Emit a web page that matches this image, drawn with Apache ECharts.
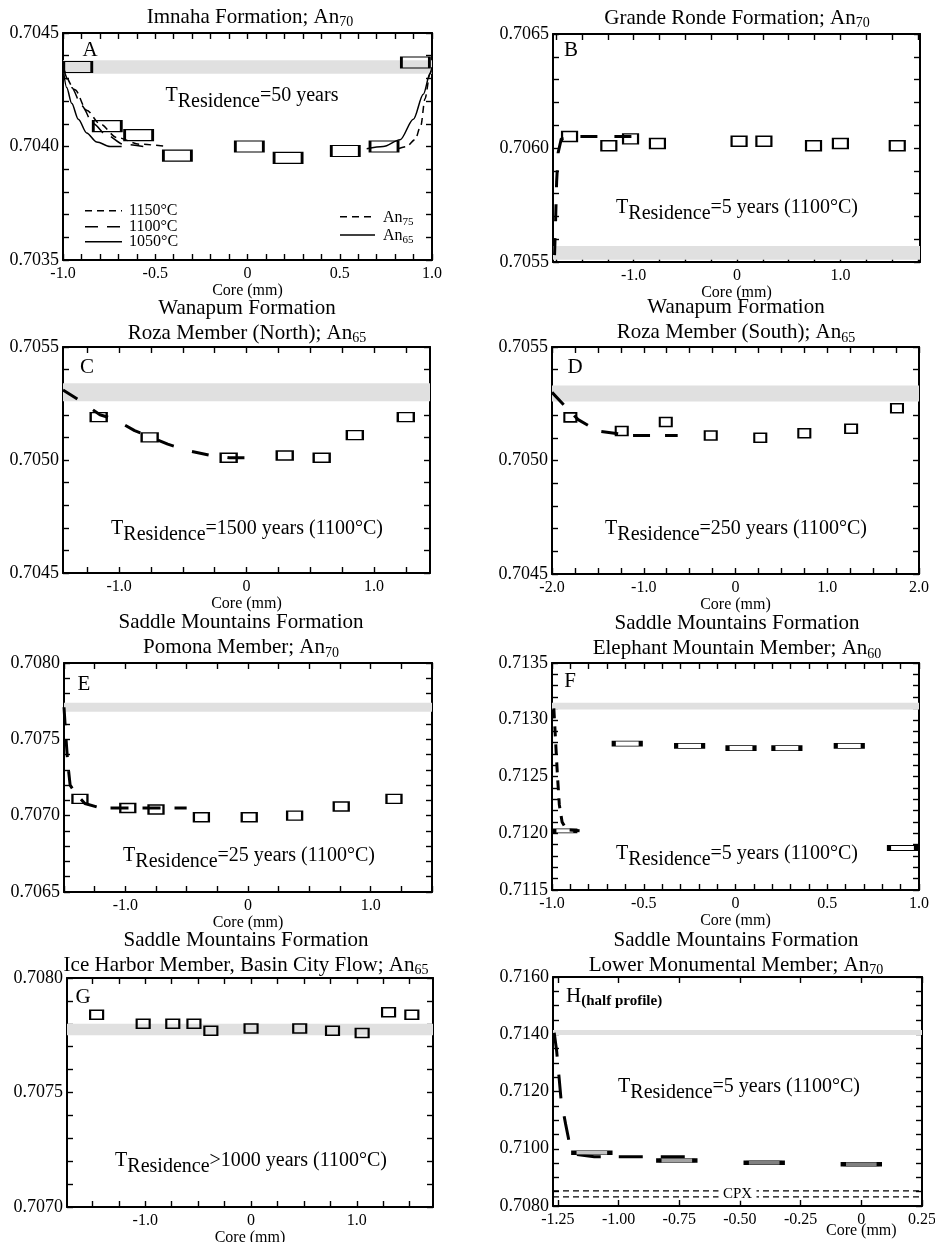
<!DOCTYPE html>
<html><head><meta charset="utf-8">
<script src="https://cdn.jsdelivr.net/npm/echarts@6/dist/echarts.min.js"></script>
<style>html,body{margin:0;padding:0;background:#fff}#c{width:935px;height:1242px}</style>
</head><body><div id="c"></div>
<script>
const FONT = '"Liberation Serif", "Times New Roman", Times, serif';

// ---------------- Panel A : Imnaha ----------------
const A_xRange = [-1.0, 1.0], A_yRange = [0.7035, 0.7045];
const A_xLabels = ['-1.0', '-0.5', '0', '0.5', '1.0'];
const A_yLabels = ['0.7035', '0.7040', '0.7045'];
const A_boxX = [-0.92, -0.76, -0.59, -0.38, 0.01, 0.22, 0.53, 0.74, 0.91];
const A_boxY = [0.70435, 0.70409, 0.70405, 0.70396, 0.70400, 0.70395, 0.70398, 0.70400, 0.70437];
const A_band = [0.70432, 0.70438];
const A_t1150X = [-1.0, -0.935, -0.872, -0.80, -0.709, -0.583, -0.438];
const A_t1150Y = [0.70435, 0.70425, 0.70416, 0.70410, 0.70404, 0.70401, 0.70400];
const A_t1100X = [-1.0, -0.953, -0.899, -0.836, -0.763, -0.673, -0.565];
const A_t1100Y = [0.70435, 0.70426, 0.70418, 0.70410, 0.70405, 0.70401, 0.70400];
const A_t1050X = [-1.0, -0.98, -0.953, -0.917, -0.872, -0.817, -0.745, -0.682];
const A_t1050Y = [0.70435, 0.70426, 0.70419, 0.70412, 0.70406, 0.70402, 0.70400, 0.70400];
const A_an65X = [0.646, 0.736, 0.827, 0.899, 0.953, 0.989, 1.0];
const A_an65Y = [0.70399, 0.70400, 0.70403, 0.70412, 0.70423, 0.70432, 0.70435];
const A_an75X = [0.817, 0.863, 0.908, 0.939, 0.962, 0.989, 1.0];
const A_an75Y = [0.70399, 0.70400, 0.70403, 0.70409, 0.70421, 0.70432, 0.70435];

// ---------------- Panel B : Grande Ronde ----------------
const B_xRange = [-1.78, 1.77], B_yRange = [0.7055, 0.7065];
const B_xLabels = ['-1.0', '0', '1.0'];
const B_yLabels = ['0.7055', '0.7060', '0.7065'];
const B_boxX = [-1.62, -1.24, -1.03, -0.77, 0.02, 0.26, 0.74, 1.00, 1.55];
const B_boxY = [0.70605, 0.70601, 0.70604, 0.70602, 0.70603, 0.70603, 0.70601, 0.70602, 0.70601];
const B_band = [0.70551, 0.70557];
const B_curveX = [-1.765, -1.755, -1.745, -1.73, -1.70, -1.55, -1.0];
const B_curveY = [0.70553, 0.70568, 0.70585, 0.70598, 0.70604, 0.70605, 0.70605];

// ---------------- Panel C : Roza North ----------------
const C_xRange = [-1.44, 1.44], C_yRange = [0.7045, 0.7055];
const C_xLabels = ['-1.0', '0', '1.0'];
const C_yLabels = ['0.7045', '0.7050', '0.7055'];
const C_boxX = [-1.16, -0.76, -0.14, 0.30, 0.59, 0.85, 1.25];
const C_boxY = [0.70519, 0.70510, 0.70501, 0.70502, 0.70501, 0.70511, 0.70519];
const C_band = [0.70526, 0.70534];
const C_curveX = [-1.44, -1.30, -1.15, -1.035, -0.878, -0.787, -0.618, -0.448, -0.279, -0.135, 0.08];
const C_curveY = [0.70531, 0.70526, 0.70520, 0.70518, 0.70513, 0.70511, 0.70507, 0.70504, 0.70502, 0.70501, 0.70501];

// ---------------- Panel D : Roza South ----------------
const D_xRange = [-2.0, 2.0], D_yRange = [0.7045, 0.7055];
const D_xLabels = ['-2.0', '-1.0', '0', '1.0', '2.0'];
const D_yLabels = ['0.7045', '0.7050', '0.7055'];
const D_boxX = [-1.80, -1.24, -0.76, -0.27, 0.27, 0.75, 1.26, 1.76];
const D_boxY = [0.70519, 0.70513, 0.70517, 0.70511, 0.70510, 0.70512, 0.70514, 0.70523];
const D_band = [0.70526, 0.70533];
const D_curveX = [-2.0, -1.86, -1.715, -1.50, -1.15, -1.04, -0.86, -0.63];
const D_curveY = [0.70530, 0.70524, 0.70518, 0.70513, 0.70511, 0.70511, 0.70511, 0.70511];

// ---------------- Panel E : Pomona ----------------
const E_xRange = [-1.5, 1.5], E_yRange = [0.7065, 0.7080];
const E_xLabels = ['-1.0', '0', '1.0'];
const E_yLabels = ['0.7065', '0.7070', '0.7075', '0.7080'];
const E_boxX = [-1.37, -0.98, -0.75, -0.38, 0.01, 0.38, 0.76, 1.19];
const E_boxY = [0.70711, 0.70705, 0.70704, 0.70699, 0.70699, 0.70700, 0.70706, 0.70711];
const E_band = [0.70768, 0.70774];
const E_curveX = [-1.50, -1.485, -1.47, -1.45, -1.41, -1.33, -1.20, -0.50];
const E_curveY = [0.70771, 0.70752, 0.70735, 0.70720, 0.70715, 0.70708, 0.70705, 0.70705];

// ---------------- Panel F : Elephant Mountain ----------------
const F_xRange = [-1.0, 1.0], F_yRange = [0.7115, 0.7135];
const F_xLabels = ['-1.0', '-0.5', '0', '0.5', '1.0'];
const F_yLabels = ['0.7115', '0.7120', '0.7125', '0.7130', '0.7135'];
const F_boxX = [-0.93, -0.59, -0.25, 0.03, 0.28, 0.62, 0.91];
const F_boxY = [0.71202, 0.71279, 0.71277, 0.71275, 0.71275, 0.71277, 0.71187];
const F_band = [0.71309, 0.71315];
const F_curveX = [-0.99, -0.98, -0.97, -0.96, -0.945, -0.92, -0.82];
const F_curveY = [0.71310, 0.71280, 0.71250, 0.71225, 0.71210, 0.71203, 0.71202];

// ---------------- Panel G : Ice Harbor ----------------
const G_xRange = [-1.74, 1.72], G_yRange = [0.7070, 0.7080];
const G_xLabels = ['-1.0', '0', '1.0'];
const G_yLabels = ['0.7070', '0.7075', '0.7080'];
const G_boxX = [-1.46, -1.02, -0.74, -0.54, -0.38, 0.00, 0.46, 0.77, 1.05, 1.30, 1.52];
const G_boxY = [0.70784, 0.70780, 0.70780, 0.70780, 0.70777, 0.70778, 0.70778, 0.70777, 0.70776, 0.70785, 0.70784];
const G_band = [0.70775, 0.70780];

// ---------------- Panel H : Lower Monumental ----------------
const H_xRange = [-1.27, 0.25], H_yRange = [0.7080, 0.7160];
const H_xLabels = ['-1.25', '-1.00', '-0.75', '-0.50', '-0.25', '0', '0.25'];
const H_yLabels = ['0.7080', '0.7100', '0.7120', '0.7140', '0.7160'];
const H_boxX = [-1.11, -0.76, -0.40, 0.00];
const H_boxY = [0.70986, 0.70959, 0.70951, 0.70946];
const H_band = [0.71397, 0.71415];
const H_curveX = [-1.265, -1.255, -1.245, -1.237, -1.218, -1.20, -1.18, -1.10, -0.70];
const H_curveY = [0.71405, 0.71342, 0.71249, 0.71173, 0.71086, 0.71010, 0.70981, 0.70972, 0.70972];
const H_cpx = [0.70853, 0.70832];

// ---------------- styles (not data) ----------------
const H_boxFill = ['#c4c4c4', '#a2a2a2', '#808080', '#808080'];

function pairs(xs, ys) { return xs.map((x, i) => [x, ys[i]]); }
function stepValues(min, max, step) {
  const out = [];
  const s = Math.ceil(min / step - 1e-6), e = Math.floor(max / step + 1e-6);
  for (let k = s; k <= e; k++) out.push(+(k * step).toFixed(6));
  return out;
}

const panels = [
  { grid: { left: 63, top: 33, width: 369, height: 227 }, xr: A_xRange, yr: A_yRange, xs: 0.1, ys: 0.0001, xl: A_xLabels, yl: A_yLabels, bx: A_boxX, by: A_boxY, band: A_band, size: [28, 11] },
  { grid: { left: 553, top: 34, width: 367, height: 228 }, xr: B_xRange, yr: B_yRange, xs: 0.25, ys: 0.0001, xl: B_xLabels, yl: B_yLabels, bx: B_boxX, by: B_boxY, band: B_band, size: [15, 10] },
  { grid: { left: 63, top: 347, width: 367, height: 226 }, xr: C_xRange, yr: C_yRange, xs: 0.25, ys: 0.0001, xl: C_xLabels, yl: C_yLabels, bx: C_boxX, by: C_boxY, band: C_band, size: [16, 9] },
  { grid: { left: 552, top: 347, width: 367, height: 227 }, xr: D_xRange, yr: D_yRange, xs: 0.25, ys: 0.0001, xl: D_xLabels, yl: D_yLabels, bx: D_boxX, by: D_boxY, band: D_band, size: [12, 9] },
  { grid: { left: 64, top: 663, width: 368, height: 229 }, xr: E_xRange, yr: E_yRange, xs: 0.25, ys: 0.0001, xl: E_xLabels, yl: E_yLabels, bx: E_boxX, by: E_boxY, band: E_band, size: [15, 9] },
  { grid: { left: 552, top: 663, width: 367, height: 227 }, xr: F_xRange, yr: F_yRange, xs: 0.1, ys: 0.0001, xl: F_xLabels, yl: F_yLabels, bx: F_boxX, by: F_boxY, band: F_band, size: [27, 5] },
  { grid: { left: 67, top: 978, width: 366, height: 229 }, xr: G_xRange, yr: G_yRange, xs: 0.25, ys: 0.0001, xl: G_xLabels, yl: G_yLabels, bx: G_boxX, by: G_boxY, band: G_band, size: [13, 9] },
  { grid: { left: 553, top: 977, width: 369, height: 229 }, xr: H_xRange, yr: H_yRange, xs: 0.25, ys: 0.0005, xl: H_xLabels, yl: H_yLabels, bx: H_boxX, by: H_boxY, band: H_band, size: [36, 4], noName: true }
];

const AX = { color: '#000', width: 2 };
const TK = { color: '#000', width: 1.4 };
function labelFmt(list) {
  return function (v) {
    for (const s of list) if (Math.abs(parseFloat(s) - v) < 1e-9) return s;
    return '';
  };
}

const grids = [], xAxes = [], yAxes = [], series = [];
panels.forEach((p, i) => {
  grids.push(Object.assign({ outerBoundsMode: 'none', containLabel: false }, p.grid));
  const xt = stepValues(p.xr[0], p.xr[1], p.xs);
  const yt = stepValues(p.yr[0], p.yr[1], p.ys);
  const xlv = p.xl.map(parseFloat), ylv = p.yl.map(parseFloat);
  const baseX = {
    gridIndex: i, type: 'value', min: p.xr[0], max: p.xr[1], splitLine: { show: false },
    axisLine: { show: true, onZero: false, lineStyle: AX },
    axisTick: { show: true, inside: true, length: 6, customValues: xt, lineStyle: TK }
  };
  xAxes.push(Object.assign({}, baseX, {
    position: 'bottom',
    axisLabel: { customValues: xlv, formatter: labelFmt(p.xl), margin: 6, color: '#000', fontSize: 16, fontFamily: FONT },
    name: p.noName ? '' : 'Core (mm)', nameLocation: 'middle', nameGap: 17,
    nameTextStyle: { color: '#000', fontSize: 16, fontFamily: FONT, verticalAlign: 'top' }
  }));
  xAxes.push(Object.assign({}, baseX, { position: 'top', axisLabel: { show: false } }));
  const baseY = {
    gridIndex: i, type: 'value', min: p.yr[0], max: p.yr[1], splitLine: { show: false },
    axisLine: { show: true, onZero: false, lineStyle: AX },
    axisTick: { show: true, inside: true, length: 6, customValues: yt, lineStyle: TK }
  };
  yAxes.push(Object.assign({}, baseY, {
    position: 'left',
    axisLabel: { customValues: ylv, formatter: labelFmt(p.yl), margin: 4, color: '#000', fontSize: 18, fontFamily: FONT }
  }));
  yAxes.push(Object.assign({}, baseY, { position: 'right', axisLabel: { show: false } }));

  // data boxes + gray melt band
  const boxData = p.bx.map((x, k) => {
    const item = { value: [x, p.by[k]] };
    if (i === 7) item.itemStyle = { color: H_boxFill[k] };
    if (i === 5 && k === 0) item.symbolSize = [21, 4];
    return item;
  });
  const sc = {
    type: 'scatter', xAxisIndex: 2 * i, yAxisIndex: 2 * i, data: boxData,
    symbol: 'rect', symbolSize: p.size, z: 4, silent: true,
    itemStyle: { color: 'rgba(0,0,0,0)', borderColor: '#000', borderWidth: 1.8, opacity: 1 },
    emphasis: { disabled: true },
    markArea: { silent: true, itemStyle: { color: '#e0e0e0' }, data: [[{ yAxis: p.band[0] }, { yAxis: p.band[1] }]] }
  };
  if (i === 7) {
    sc.markPoint = {
      silent: true, z: 7,
      data: [{
        coord: [(H_xRange[0] + H_xRange[1]) / 2, (H_cpx[0] + H_cpx[1]) / 2],
        symbol: 'rect', symbolSize: [38, 14], itemStyle: { color: '#fff' },
        label: { show: true, position: 'inside', formatter: 'CPX', color: '#000', fontSize: 15, fontFamily: FONT }
      }]
    };
  }
  series.push(sc);
});

function curve(idx, xs, ys, width, dash, smooth) {
  return {
    type: 'line', xAxisIndex: 2 * idx, yAxisIndex: 2 * idx, data: pairs(xs, ys),
    symbol: 'none', silent: true, z: 3, smooth: smooth || false, smoothMonotone: 'x',
    lineStyle: { color: '#000', width: width, type: dash, cap: 'butt' },
    emphasis: { disabled: true }
  };
}
series.push(curve(0, A_t1150X, A_t1150Y, 1.5, [7, 5], 0.3));
series.push(curve(0, A_t1100X, A_t1100Y, 1.5, [13, 9], 0.3));
series.push(curve(0, A_t1050X, A_t1050Y, 1.5, 'solid', 0.3));
series.push(curve(0, A_an65X, A_an65Y, 1.5, 'solid', 0.3));
series.push(curve(0, A_an75X, A_an75Y, 1.5, [7, 5], 0.3));
series.push(curve(1, B_curveX, B_curveY, 3, [17, 17]));
series.push(curve(2, C_curveX, C_curveY, 3, [17, 19]));
series.push(curve(3, D_curveX, D_curveY, 3, [17, 15]));
series.push(curve(4, E_curveX, E_curveY, 3, [18, 14]));
series.push(curve(5, F_curveX, F_curveY, 3, [10, 8]));
series.push(curve(7, H_curveX, H_curveY, 3, [24, 18]));
// CPX reference levels in panel H, drawn across the full axis range
H_cpx.forEach(v => series.push(curve(7, H_xRange, [v, v], 1.4, [6, 4])));

const chart = echarts.init(document.getElementById('c'), null, { renderer: 'canvas' });
chart.setOption({
  animation: false, backgroundColor: '#fff',
  grid: grids, xAxis: xAxes, yAxis: yAxes, series: series
});

// ---------------- text annotations ----------------
const titleRich = {
  m: { fontSize: 21, fontFamily: FONT, lineHeight: 25 },
  s: { fontSize: 14, fontFamily: FONT, lineHeight: 25, verticalAlign: 'bottom' }
};
const trRich = {
  t: { fontSize: 20, fontFamily: FONT, lineHeight: 26, verticalAlign: 'top' },
  r: { fontSize: 20, fontFamily: FONT, lineHeight: 26, verticalAlign: 'bottom' }
};
const titles = [
  [250, 17, '{m|Imnaha Formation; An}{s|70}'],
  [737, 18, '{m|Grande Ronde Formation; An}{s|70}'],
  [247, 320.5, '{m|Wanapum Formation}\n{m|Roza Member (North); An}{s|65}'],
  [736, 320, '{m|Wanapum Formation}\n{m|Roza Member (South); An}{s|65}'],
  [241, 635, '{m|Saddle Mountains Formation}\n{m|Pomona Member; An}{s|70}'],
  [737, 636, '{m|Saddle Mountains Formation}\n{m|Elephant Mountain Member; An}{s|60}'],
  [246, 952.5, '{m|Saddle Mountains Formation}\n{m|Ice Harbor Member, Basin City Flow; An}{s|65}'],
  [736, 952.5, '{m|Saddle Mountains Formation}\n{m|Lower Monumental Member; An}{s|70}']
];
const residences = [
  [252, 99, '{t|T}{r|Residence}{t|=50 years}'],
  [737, 210.5, '{t|T}{r|Residence}{t|=5 years (1100°C)}'],
  [247, 532, '{t|T}{r|Residence}{t|=1500 years (1100°C)}'],
  [736, 532, '{t|T}{r|Residence}{t|=250 years (1100°C)}'],
  [249, 859, '{t|T}{r|Residence}{t|=25 years (1100°C)}'],
  [737, 857, '{t|T}{r|Residence}{t|=5 years (1100°C)}'],
  [251, 1164, '{t|T}{r|Residence}{t|>1000 years (1100°C)}'],
  [739, 1090, '{t|T}{r|Residence}{t|=5 years (1100°C)}']
];
const letters = [[90, 50, 'A'], [571, 50, 'B'], [87, 367, 'C'], [575, 367, 'D'], [84, 684, 'E'], [570, 681, 'F'], [83, 997, 'G']];

const g = [];
titles.forEach(t => g.push({ type: 'text', x: t[0], y: t[1], silent: true,
  style: { text: t[2], rich: titleRich, fontFamily: FONT, fontSize: 21, align: 'center', verticalAlign: 'middle', fill: '#000' } }));
residences.forEach(t => g.push({ type: 'text', x: t[0], y: t[1], silent: true,
  style: { text: t[2], rich: trRich, fontFamily: FONT, fontSize: 20, align: 'center', verticalAlign: 'middle', fill: '#000' } }));
letters.forEach(t => g.push({ type: 'text', x: t[0], y: t[1], silent: true,
  style: { text: t[2], fontFamily: FONT, fontSize: 21, align: 'center', verticalAlign: 'middle', fill: '#000' } }));
g.push({ type: 'text', x: 566, y: 997, silent: true,
  style: { text: '{h|H}{p|(half profile)}', fontFamily: FONT, fontSize: 21, align: 'left', verticalAlign: 'middle', fill: '#000',
    rich: { h: { fontSize: 21, fontFamily: FONT, lineHeight: 23, verticalAlign: 'top' },
            p: { fontSize: 15, fontWeight: 'bold', fontFamily: FONT, lineHeight: 23, verticalAlign: 'bottom' } } } });

// legend of panel A
const legL = [[210.7, [7, 5], '1150°C'], [226.7, [13, 9], '1100°C'], [241.7, null, '1050°C']];
legL.forEach(r => {
  g.push({ type: 'line', silent: true, shape: { x1: 85, y1: r[0], x2: 122, y2: r[0] },
    style: { stroke: '#000', lineWidth: 1.5, lineDash: r[1] || null } });
  g.push({ type: 'text', x: 129, y: r[0], silent: true,
    style: { text: r[2], fontFamily: FONT, fontSize: 16, align: 'left', verticalAlign: 'middle', fill: '#000' } });
});
const legR = [[216.7, [7, 5], '75'], [235, null, '65']];
legR.forEach(r => {
  g.push({ type: 'line', silent: true, shape: { x1: 340, y1: r[0], x2: 375, y2: r[0] },
    style: { stroke: '#000', lineWidth: 1.5, lineDash: r[1] || null } });
  g.push({ type: 'text', x: 383, y: r[0] + 1, silent: true,
    style: { text: '{a|An}{b|' + r[2] + '}', fontFamily: FONT, fontSize: 16, align: 'left', verticalAlign: 'middle', fill: '#000',
      rich: { a: { fontSize: 16, fontFamily: FONT, lineHeight: 19 }, b: { fontSize: 11, fontFamily: FONT, lineHeight: 19, verticalAlign: 'bottom' } } } });
});

// axis name of panel H, placed under x = 0
const hx = chart.convertToPixel({ xAxisIndex: 14 }, 0);
g.push({ type: 'text', x: hx, y: 1223, silent: true,
  style: { text: 'Core (mm)', fontFamily: FONT, fontSize: 16, align: 'center', verticalAlign: 'top', fill: '#000' } });

chart.setOption({ graphic: g });
</script></body></html>
